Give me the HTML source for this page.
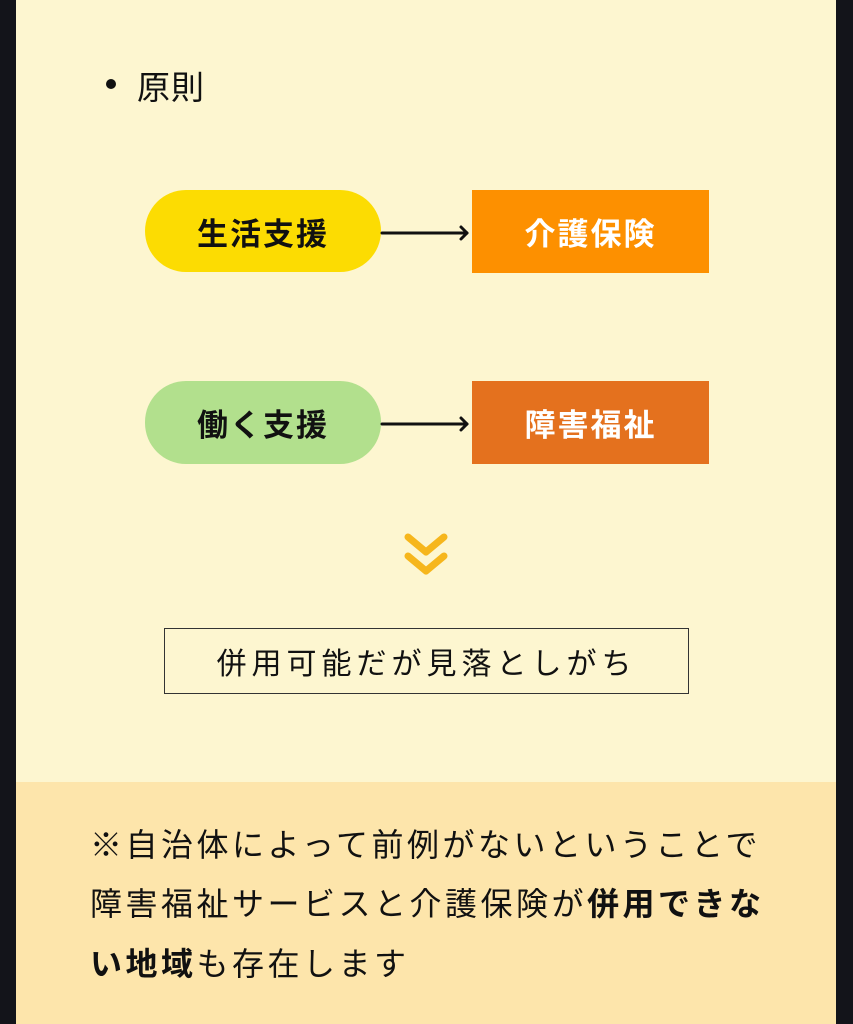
<!DOCTYPE html>
<html><head><meta charset="utf-8"><style>
html,body{margin:0;padding:0}
body{width:853px;height:1024px;background:#13141a;position:relative;overflow:hidden;font-family:"Liberation Sans","Noto Sans CJK JP",sans-serif}
.main{position:absolute;left:16px;top:0;width:820px;height:782px;background:#fdf6d0}
.bot{position:absolute;left:16px;top:782px;width:820px;height:242px;background:#fde5ab}
.abs{position:absolute}
.node{position:absolute;display:flex;align-items:center;justify-content:center;font-weight:bold;font-size:31px;letter-spacing:2px}
.line{position:absolute;left:90px;font-size:32px;letter-spacing:3.5px;color:#111;white-space:nowrap}
</style></head><body>
<div class="main"></div>
<div class="bot"></div>
<div class="abs" style="left:106px;top:79px;width:10px;height:10px;border-radius:50%;background:#111"></div>
<div class="abs" style="left:137px;top:61px;font-size:33px;letter-spacing:1px;color:#111">原則</div>

<div class="node" style="left:145px;top:190px;width:236px;height:82px;border-radius:41px;background:#fcdc02;color:#111">生活支援</div>
<div class="node" style="left:472px;top:190px;width:237px;height:83px;background:#fd9000;color:#fff">介護保険</div>
<div class="node" style="left:145px;top:381px;width:236px;height:83px;border-radius:41px;background:#b2e08d;color:#111">働く支援</div>
<div class="node" style="left:472px;top:381px;width:237px;height:83px;background:#e4711e;color:#fff">障害福祉</div>

<svg class="abs" style="left:0;top:0" width="853" height="700">
<g stroke="#111" stroke-width="3" fill="none" stroke-linecap="round" stroke-linejoin="round">
<line x1="382" y1="233" x2="467" y2="233"/><polyline points="461,227 467,233 461,239"/>
<line x1="382" y1="424" x2="467" y2="424"/><polyline points="461,418 467,424 461,430"/>
</g>
<g stroke="#f6b61c" stroke-width="7" fill="none" stroke-linecap="round" stroke-linejoin="round">
<polyline points="408,537 426,552 444,537"/>
<polyline points="408,556 426,571 444,556"/>
</g>
</svg>

<div class="abs" style="left:164px;top:628px;width:525px;height:66px;border:1px solid #333;box-sizing:border-box;display:flex;align-items:center;justify-content:center;font-size:30px;letter-spacing:5px;color:#111">併用可能だが見落としがち</div>

<div class="line" style="top:820px">※自治体によって前例がないということで</div>
<div class="line" style="top:879px">障害福祉サービスと介護保険が<b>併用できな</b></div>
<div class="line" style="top:939px"><b>い地域</b>も存在します</div>
</body></html>
